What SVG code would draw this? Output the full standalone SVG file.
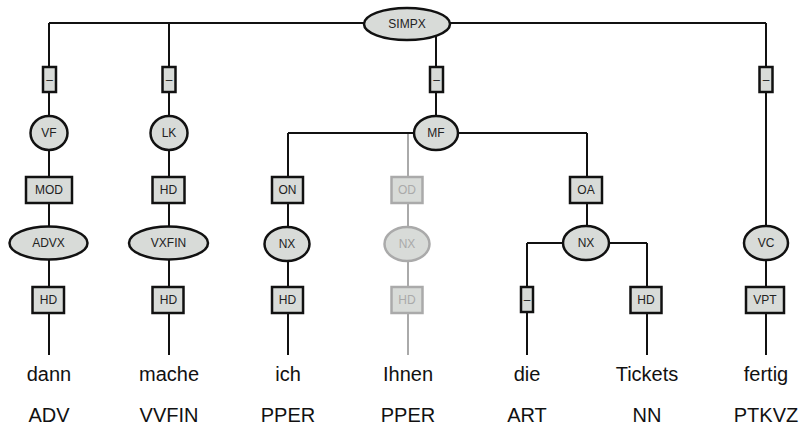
<svg xmlns="http://www.w3.org/2000/svg" width="800" height="427" viewBox="0 0 800 427">
<style>
.ln{stroke:#111;stroke-width:2;fill:none}
.lg{stroke:#aaa;stroke-width:2;fill:none}
.nd{fill:#d8dbd8;stroke:#111;stroke-width:2.5}
.ng{fill:#d8dbd8;stroke:#aaa;stroke-width:2.5}
.t{font-family:"Liberation Sans",Arial,sans-serif;font-size:12px;fill:#222;text-anchor:middle;dominant-baseline:central}
.tg{font-family:"Liberation Sans",Arial,sans-serif;font-size:12px;fill:#aaa;text-anchor:middle;dominant-baseline:central}
.w{font-family:"Liberation Sans",Arial,sans-serif;font-size:20px;fill:#111;text-anchor:middle}
</style>
<rect width="800" height="427" fill="#fff"/>
<g id="connectors">
<path class="lg" d="M408 133V355"/>
<path class="ln" d="M49 23H766M49 23V355M169 23V355M766 23V355M436 23V133M288 133H587M288 133V355M587 133V243M527 243H647M527 243V355M647 243V355"/>
</g>
<g id="n-simpx"><ellipse class="nd" cx="407" cy="24" rx="43" ry="16"/><text class="t" x="407" y="24">SIMPX</text></g>
<g id="e-vf"><rect class="nd" x="43" y="67" width="13" height="25"/><text class="t" x="49.5" y="79.5">–</text></g>
<g id="e-lk"><rect class="nd" x="162.5" y="67" width="13" height="25"/><text class="t" x="169" y="79.5">–</text></g>
<g id="e-mf"><rect class="nd" x="430" y="67" width="13" height="25"/><text class="t" x="436.5" y="79.5">–</text></g>
<g id="e-vc"><rect class="nd" x="759.5" y="67" width="13" height="25"/><text class="t" x="766" y="79.5">–</text></g>
<g id="n-vf"><ellipse class="nd" cx="49" cy="133" rx="18.5" ry="17"/><text class="t" x="49" y="133">VF</text></g>
<g id="n-lk"><ellipse class="nd" cx="169" cy="133" rx="18.5" ry="17"/><text class="t" x="169" y="133">LK</text></g>
<g id="n-mf"><ellipse class="nd" cx="436" cy="133" rx="22" ry="17"/><text class="t" x="436" y="133">MF</text></g>
<g id="n-vc"><ellipse class="nd" cx="766" cy="243" rx="22" ry="17"/><text class="t" x="766" y="243">VC</text></g>
<g id="e-mod"><rect class="nd" x="26" y="177" width="46" height="26"/><text class="t" x="49" y="190">MOD</text></g>
<g id="e-hd1"><rect class="nd" x="152.5" y="177" width="32" height="26"/><text class="t" x="168.5" y="190">HD</text></g>
<g id="e-on"><rect class="nd" x="272" y="177" width="31" height="26"/><text class="t" x="287.5" y="190">ON</text></g>
<g id="e-od"><rect class="ng" x="391.5" y="177" width="31" height="26"/><text class="tg" x="407" y="190">OD</text></g>
<g id="e-oa"><rect class="nd" x="570" y="177" width="32" height="26"/><text class="t" x="586" y="190">OA</text></g>
<g id="n-advx"><ellipse class="nd" cx="48.5" cy="243" rx="39" ry="16.5"/><text class="t" x="48.5" y="243">ADVX</text></g>
<g id="n-vxfin"><ellipse class="nd" cx="168.5" cy="243" rx="39.5" ry="16.5"/><text class="t" x="168.5" y="243">VXFIN</text></g>
<g id="n-nx1"><ellipse class="nd" cx="287" cy="244" rx="22.5" ry="17"/><text class="t" x="287" y="244">NX</text></g>
<g id="n-nx2"><ellipse class="ng" cx="407" cy="244" rx="22.5" ry="17"/><text class="tg" x="407" y="244">NX</text></g>
<g id="n-nx3"><ellipse class="nd" cx="586" cy="243" rx="23" ry="17"/><text class="t" x="586" y="243">NX</text></g>
<g id="e-hd2"><rect class="nd" x="32.5" y="287" width="31.5" height="26"/><text class="t" x="48.5" y="300">HD</text></g>
<g id="e-hd3"><rect class="nd" x="152.5" y="287" width="31" height="26"/><text class="t" x="168.5" y="300">HD</text></g>
<g id="e-hd4"><rect class="nd" x="272" y="287" width="31" height="26"/><text class="t" x="287.5" y="300">HD</text></g>
<g id="e-hd5"><rect class="ng" x="391.5" y="287" width="31" height="26"/><text class="tg" x="407" y="300">HD</text></g>
<g id="e-die"><rect class="nd" x="521" y="287" width="12" height="25"/><text class="t" x="527" y="299.5">–</text></g>
<g id="e-hd6"><rect class="nd" x="630.5" y="287" width="31" height="26"/><text class="t" x="646" y="300">HD</text></g>
<g id="e-vpt"><rect class="nd" x="746" y="287" width="38" height="26"/><text class="t" x="765" y="300">VPT</text></g>
<g id="words">
<text class="w" x="49" y="381">dann</text>
<text class="w" x="169" y="381">mache</text>
<text class="w" x="288" y="381">ich</text>
<text class="w" x="408" y="381">Ihnen</text>
<text class="w" x="527" y="381">die</text>
<text class="w" x="647" y="381">Tickets</text>
<text class="w" x="766" y="381">fertig</text>
<text class="w" x="49" y="422">ADV</text>
<text class="w" x="169" y="422">VVFIN</text>
<text class="w" x="288" y="422">PPER</text>
<text class="w" x="408" y="422">PPER</text>
<text class="w" x="527" y="422">ART</text>
<text class="w" x="647" y="422">NN</text>
<text class="w" x="766" y="422">PTKVZ</text>
</g>
</svg>
